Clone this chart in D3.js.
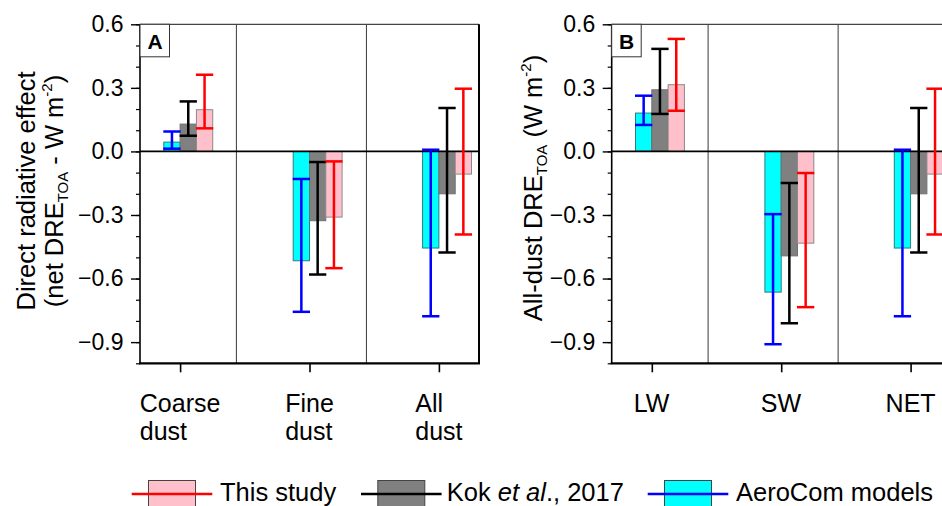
<!DOCTYPE html>
<html>
<head>
<meta charset="utf-8">
<script src="https://cdn.jsdelivr.net/npm/d3@7"></script>
<style>
  body { margin: 0; background: #fff; }
  svg { display: block; font-family: "Liberation Sans", Arial, sans-serif; }
</style>
</head>
<body>
<div id="chart"></div>
<script>
// categories
const categoriesA = [["Coarse", "dust"], ["Fine", "dust"], ["All", "dust"]];
const categoriesB = [["LW"], ["SW"], ["NET"]];

// y ticks
const yMajorTicks = [-0.9, -0.6, -0.3, 0.0, 0.3, 0.6];
const yMinorTicks = [-1.0, -0.9, -0.8, -0.7, -0.6, -0.5, -0.4, -0.3, -0.2, -0.1, 0.0, 0.1, 0.2, 0.3, 0.4, 0.5, 0.6];

// panel A : coarse / fine / all dust (net DRE)
const aerocomA = [0.044, -0.516, -0.456];
const aerocomALow = [0.013, -0.757, -0.778];
const aerocomAHigh = [0.094, -0.130, 0.008];
const kokA = [0.129, -0.327, -0.200];
const kokALow = [0.074, -0.581, -0.477];
const kokAHigh = [0.236, -0.050, 0.205];
const studyA = [0.197, -0.310, -0.107];
const studyALow = [0.109, -0.551, -0.392];
const studyAHigh = [0.362, -0.047, 0.296];

// panel B : LW / SW / NET (all dust)
const aerocomB = [0.181, -0.664, -0.456];
const aerocomBLow = [0.125, -0.910, -0.778];
const aerocomBHigh = [0.263, -0.296, 0.008];
const kokB = [0.291, -0.493, -0.200];
const kokBLow = [0.177, -0.811, -0.477];
const kokBHigh = [0.484, -0.149, 0.205];
const studyB = [0.315, -0.433, -0.107];
const studyBLow = [0.192, -0.735, -0.392];
const studyBHigh = [0.531, -0.102, 0.296];

const width = 942;
const height = 506;

// series styles, order = bar order inside a group
const styles = [
  { fill: "#00ffff", stroke: "#2b7f7f", err: "#0000ff" },
  { fill: "#808080", stroke: "#707070", err: "#000000" },
  { fill: "#ffc0cb", stroke: "#8a8a8a", err: "#ff0000" }
];

const svg = d3.select("#chart")
  .append("svg")
  .attr("width", width)
  .attr("height", height);

const y = d3.scaleLinear()
  .domain([-1.0, 0.6])
  .range([363.3, 24.3]);

function buildSeries(means, lows, highs) {
  return means.map((m, i) => ({ mean: m, low: lows[i], high: highs[i] }));
}

function drawPanel(left, letter, cats, seriesList) {
  const panelWidth = 339;
  const x = d3.scaleLinear()
    .domain([0.69, 3.31])
    .range([left, left + panelWidth]);
  const barW = x(1.126) - x(1);
  const g = svg.append("g");

  // dividers between categories
  g.selectAll(".divider")
    .data([1.435, 2.44])
    .enter()
    .append("line")
    .attr("x1", d => x(d))
    .attr("x2", d => x(d))
    .attr("y1", y(0.6))
    .attr("y2", y(-1.0))
    .attr("stroke", "#3a3a3a")
    .attr("stroke-width", 1);

  // bars
  seriesList.forEach((series, s) => {
    g.selectAll(".bar" + s)
      .data(series)
      .enter()
      .append("rect")
      .attr("x", (d, i) => x(i + 1) + (s - 1) * barW)
      .attr("y", d => y(Math.max(0, d.mean)))
      .attr("width", barW)
      .attr("height", d => Math.abs(y(d.mean) - y(0)))
      .attr("fill", styles[s].fill)
      .attr("stroke", styles[s].stroke)
      .attr("stroke-width", 1);
  });

  // zero line
  g.append("line")
    .attr("x1", x(0.69))
    .attr("x2", x(3.31))
    .attr("y1", y(0))
    .attr("y2", y(0))
    .attr("stroke", "#000")
    .attr("stroke-width", 1.7);

  // error bars
  seriesList.forEach((series, s) => {
    const cx = i => x(i + 1) + (s - 0.5) * barW;
    const eb = g.selectAll(".err" + s)
      .data(series)
      .enter()
      .append("g")
      .attr("stroke", styles[s].err)
      .attr("stroke-width", 2.5);
    eb.append("line")
      .attr("x1", (d, i) => cx(i))
      .attr("x2", (d, i) => cx(i))
      .attr("y1", d => y(d.low))
      .attr("y2", d => y(d.high));
    eb.append("line")
      .attr("x1", (d, i) => cx(i) - barW / 2 - 0.5)
      .attr("x2", (d, i) => cx(i) + barW / 2 + 0.5)
      .attr("y1", d => y(d.low))
      .attr("y2", d => y(d.low));
    eb.append("line")
      .attr("x1", (d, i) => cx(i) - barW / 2 - 0.5)
      .attr("x2", (d, i) => cx(i) + barW / 2 + 0.5)
      .attr("y1", d => y(d.high))
      .attr("y2", d => y(d.high));
  });

  // frame
  g.append("line")
    .attr("x1", x(0.69)).attr("x2", x(3.31))
    .attr("y1", y(0.6)).attr("y2", y(0.6))
    .attr("stroke", "#444").attr("stroke-width", 1.2);
  g.append("line")
    .attr("x1", x(3.31)).attr("x2", x(3.31))
    .attr("y1", y(0.6)).attr("y2", y(-1.0))
    .attr("stroke", "#000").attr("stroke-width", 2);
  g.append("line")
    .attr("x1", x(0.69) - 1).attr("x2", x(3.31) + 1)
    .attr("y1", y(-1.0)).attr("y2", y(-1.0))
    .attr("stroke", "#000").attr("stroke-width", 2.2);

  // y axis
  const yMinor = g.append("g")
    .attr("transform", `translate(${left},0)`)
    .call(d3.axisLeft(y).tickValues(yMinorTicks).tickSize(4).tickFormat(""));
  yMinor.select(".domain").remove();
  yMinor.selectAll("line").attr("stroke-width", 1.2);

  const yMajor = g.append("g")
    .attr("transform", `translate(${left},0)`)
    .call(d3.axisLeft(y).tickValues(yMajorTicks).tickSize(9).tickPadding(7.5).tickFormat(d3.format(".1f")));
  yMajor.select(".domain")
    .attr("d", `M0,${y(0.6)}V${y(-1.0)}`)
    .attr("stroke-width", 1.6);
  yMajor.selectAll("line").attr("stroke-width", 1.4);
  yMajor.selectAll("text")
    .attr("font-size", "23px")
    .attr("font-family", "Liberation Sans, Arial, sans-serif")
    .attr("fill", "#000");

  // x axis ticks
  const xAxis = g.append("g")
    .attr("transform", `translate(0,${y(-1.0)})`)
    .call(d3.axisBottom(x).tickValues([1, 2, 3]).tickSize(9).tickFormat(""));
  xAxis.select(".domain").remove();
  xAxis.selectAll("line").attr("stroke-width", 1.6);

  // category labels: lines left-aligned, block centered on the tick
  cats.forEach((lines, i) => {
    const t = g.append("text")
      .attr("font-size", "25px")
      .attr("fill", "#000");
    lines.forEach((line, k) => {
      t.append("tspan")
        .attr("x", 0)
        .attr("dy", k === 0 ? 0 : 28.5)
        .text(line);
    });
    const bw = t.node().getBBox().width;
    t.attr("transform", `translate(${x(i + 1) - bw / 2},411.5)`);
  });

  // panel letter
  g.append("rect")
    .attr("x", left)
    .attr("y", y(0.6))
    .attr("width", 29.5)
    .attr("height", 32.5)
    .attr("fill", "#fff")
    .attr("stroke", "#333")
    .attr("stroke-width", 1);
  g.append("text")
    .attr("x", left + 15)
    .attr("y", 48.5)
    .attr("text-anchor", "middle")
    .attr("font-size", "21px")
    .attr("font-weight", "bold")
    .text(letter);

  return x;
}

drawPanel(140, "A", categoriesA, [
  buildSeries(aerocomA, aerocomALow, aerocomAHigh),
  buildSeries(kokA, kokALow, kokAHigh),
  buildSeries(studyA, studyALow, studyAHigh)
]);

drawPanel(611.7, "B", categoriesB, [
  buildSeries(aerocomB, aerocomBLow, aerocomBHigh),
  buildSeries(kokB, kokBLow, kokBHigh),
  buildSeries(studyB, studyBLow, studyBHigh)
]);

// y axis titles
function addDreLabel(text, before, after) {
  text.append("tspan").text(before + "DRE");
  text.append("tspan").attr("font-size", "15px").attr("dy", 5).text("TOA");
  text.append("tspan").attr("dy", -5).text(after);
  text.append("tspan").attr("font-size", "15px").attr("dy", -11).text("-2");
  text.append("tspan").attr("dy", 11).text(")");
}

svg.append("text")
  .attr("transform", "translate(35,191) rotate(-90)")
  .attr("text-anchor", "middle")
  .attr("font-size", "25.5px")
  .text("Direct radiative effect");

const titleA2 = svg.append("text")
  .attr("transform", "translate(63,191) rotate(-90)")
  .attr("text-anchor", "middle")
  .attr("font-size", "25.5px");
addDreLabel(titleA2, "(net ", " - W m");

const titleB = svg.append("text")
  .attr("transform", "translate(541.5,188) rotate(-90)")
  .attr("text-anchor", "middle")
  .attr("font-size", "25.5px");
addDreLabel(titleB, "All-dust ", " (W m");

// legend
const legendItems = [
  { s: 2, x: 131.7, label: "This study" },
  { s: 1, x: 361, label: "Kok" },
  { s: 0, x: 647.7, label: "AeroCom models" }
];

const legend = svg.selectAll(".legend")
  .data(legendItems)
  .enter()
  .append("g")
  .attr("transform", d => `translate(${d.x},0)`);

legend.append("rect")
  .attr("x", 16.8)
  .attr("y", 480.5)
  .attr("width", 47)
  .attr("height", 40)
  .attr("fill", d => styles[d.s].fill)
  .attr("stroke", "#444")
  .attr("stroke-width", 1);

legend.append("line")
  .attr("x1", 0)
  .attr("x2", 80.6)
  .attr("y1", 494)
  .attr("y2", 494)
  .attr("stroke", d => styles[d.s].err)
  .attr("stroke-width", 2.4);

legend.append("text")
  .attr("x", d => d.s === 1 ? 85.7 : 88.3)
  .attr("y", 501)
  .attr("font-size", "25.5px")
  .each(function(d) {
    const t = d3.select(this);
    if (d.s === 1) {
      t.append("tspan").text("Kok ");
      t.append("tspan").attr("font-style", "italic").text("et al");
      t.append("tspan").text("., 2017");
    } else {
      t.text(d.label);
    }
  });
</script>
</body>
</html>
